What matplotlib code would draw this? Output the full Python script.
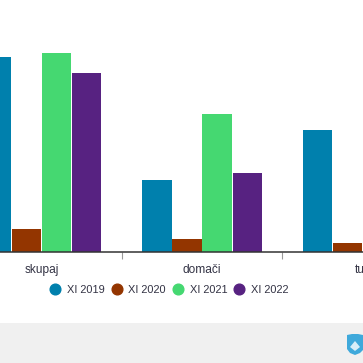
import matplotlib
matplotlib.use('Agg')
import matplotlib.pyplot as plt
from matplotlib.lines import Line2D
from matplotlib.patches import Polygon, Rectangle
import numpy as np

plt.rcParams['font.family'] = ['Liberation Sans', 'DejaVu Sans']

categories = ['skupaj', 'domači', 'tuji']
series_names = ['XI 2019', 'XI 2020', 'XI 2021', 'XI 2022']
colors = ['#0080ad', '#933500', '#45d871', '#572281']
# values, the last two of "tuji" are out of frame
xi_2019 = [195, 72, 122]
xi_2020 = [23, 13, 9]
xi_2021 = [199, 138, np.nan]
xi_2022 = [179, 79, np.nan]
values = [xi_2019, xi_2020, xi_2021, xi_2022]

W = 363
fig = plt.figure(figsize=(W / 100, W / 100), dpi=100)
fig.patch.set_facecolor('white')

# plot area starts at the left edge, baseline at y=252 px
ax = fig.add_axes([0, (W - 252) / W, 1, 252 / W])
x = np.arange(len(categories))
group = 160.7
ax.set_xlim(-41.4 / group, (W - 41.4) / group)
ax.set_ylim(0, 252)
width = 29.3 / group
step = 30.1 / group
for i, vals in enumerate(values):
    ax.bar(x + (i - 1.5) * step, vals, width=width, color=colors[i], label=series_names[i])

for s in ['top', 'left', 'right']:
    ax.spines[s].set_visible(False)
ax.spines['bottom'].set_color('#333333')
ax.spines['bottom'].set_linewidth(1.1)
ax.set_yticks([])
ax.set_xticks(x)
ax.set_xticklabels(categories, fontsize=8.6, color='#333344')
ax.tick_params(axis='x', length=0, pad=8.5)
ax.set_xticks(x[:-1] + 0.5, minor=True)
ax.tick_params(axis='x', which='minor', length=5, width=0.8, color='#999999')

handles = [Line2D([], [], ls='', marker='o', ms=7.7, color=c) for c in colors]
fig.legend(handles, series_names, loc='center', bbox_to_anchor=(169 / W, 1 - 290 / W),
           ncol=4, frameon=False, fontsize=7.9, labelcolor='#333344',
           handletextpad=0.59, columnspacing=0.55, handlelength=1.0, borderpad=0)

# grey footer with the small shield
fig.add_artist(Rectangle((0, 0), 1, 40 / W, transform=fig.transFigure, color='#f0f0f0', lw=0))
shield = [(347, 335), (352, 334), (358, 334), (363, 335), (363, 350), (360, 353), (355, 355),
          (350, 353), (347, 349)]
fig.add_artist(Polygon([(a / W, 1 - b / W) for a, b in shield], transform=fig.transFigure,
                       color='#3fa9db', lw=0))
snow = [(350, 347), (355, 341), (360, 347), (355, 351)]
fig.add_artist(Polygon([(a / W, 1 - b / W) for a, b in snow], transform=fig.transFigure,
                       color='#d8eef8', lw=0))

fig.savefig('out.png', dpi=100)
